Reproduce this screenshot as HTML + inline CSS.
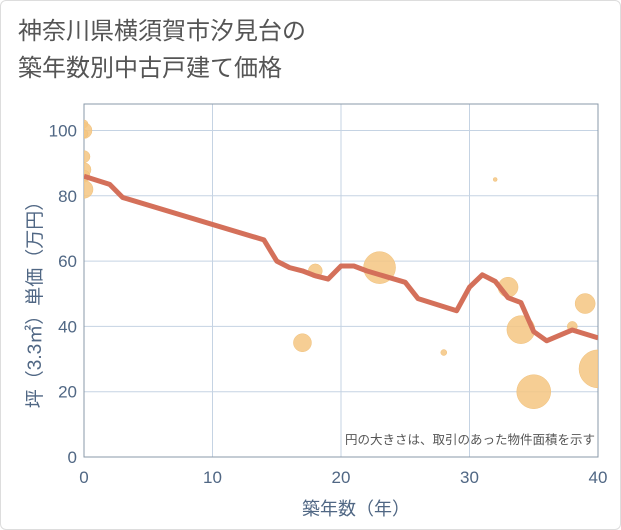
<!DOCTYPE html>
<html><head><meta charset="utf-8"><style>
body{margin:0;background:#fff;}
#wrap{position:relative;width:619px;height:528px;border:1px solid #ddd;border-radius:6px;background:#fff;font-family:"Liberation Sans","Noto Sans CJK JP",sans-serif;overflow:hidden}
.title{position:absolute;left:17px;top:12px;font-size:24px;line-height:37px;color:#555;}
</style></head><body>
<div id="wrap">
<div class="title">神奈川県横須賀市汐見台の<br>築年数別中古戸建て価格</div>
<svg id="chart" width="621" height="530" style="position:absolute;left:0;top:0"></svg>
</div>
<script>
const xTicks=[0,10,20,30,40];
const yTicks=[0,20,40,60,80,100];
const lineX=[0,2,3,14,15,16,17,18,19,20,21,22,25,26,29,30,31,32,33,34,35,36,38,40];
const lineY=[86,83.5,79.5,66.5,60,58,57,55.5,54.5,58.5,58.5,57,53.5,48.5,44.8,52,55.8,53.8,48.8,47.3,38.4,35.6,38.9,36.5];
const bubX=[0,0,0,0,0,0,0,18,17,23,28,32,33,34,35,38,39,40];
const bubY=[102,100,99,92,88,86,82,57,35,58,32,85,52,39,20,40,47,27];
const bubR=[4,8,4,6,7,6,9,7,9,16,3,2,10,14,17,5,10,19];
const NS='http://www.w3.org/2000/svg';
const svg=document.getElementById('chart');
const L=83,R=597,T=103,B=456;
const xs=v=>L+(v-0)/40*(R-L);
const ys=v=>B-v*3.265;
function mk(tag,attrs,parent){const e=document.createElementNS(NS,tag);for(const k in attrs)e.setAttribute(k,attrs[k]);(parent||svg).appendChild(e);return e;}
const clip=mk('clipPath',{id:'pc'});mk('rect',{x:L,y:T,width:R-L,height:B-T},clip);
xTicks.forEach(t=>{const g=mk('line',{x1:xs(t),x2:xs(t),y1:T,y2:B,stroke:'#c5d3e3','stroke-width':1});

const tx=mk('text',{x:xs(t),y:482,'text-anchor':'middle','font-size':17,fill:'#506784'});tx.textContent=t;
});
yTicks.forEach(t=>{const g=mk('line',{x1:L,x2:R,y1:ys(t),y2:ys(t),stroke:'#c5d3e3','stroke-width':1});

const tx=mk('text',{x:76,y:ys(t)+6,'text-anchor':'end','font-size':17,fill:'#506784'});tx.textContent=t;
});
const fr=mk('rect',{x:L,y:T,width:R-L,height:B-T,fill:'none',stroke:'#8a99a8','stroke-width':1});

const bg=mk('g',{'clip-path':'url(#pc)'});

bubX.forEach((x,i)=>{const c=mk('circle',{cx:xs(x),cy:ys(bubY[i]),r:bubR[i],fill:'#f5c681','fill-opacity':0.85,stroke:'#f0c07a','stroke-width':0.5},bg);
});
const pl=mk('polyline',{points:lineX.map((x,i)=>xs(x)+','+ys(lineY[i])).join(' '),fill:'none',stroke:'#d4705a','stroke-width':5,'stroke-linejoin':'round','clip-path':'url(#pc)'});

const note=mk('text',{x:594,y:443,'text-anchor':'end','font-size':12.5,fill:'#555'});note.textContent='円の大きさは、取引のあった物件面積を示す';

const xl=mk('text',{x:355,y:514,'text-anchor':'middle','font-size':18,fill:'#506784'});xl.textContent='築年数（年）';

const yl=mk('text',{x:0,y:0,'text-anchor':'middle','font-size':19,fill:'#506784',transform:'translate(40,299) rotate(-90)'});yl.textContent='坪（3.3㎡）単価（万円）';

</script>
</body></html>
